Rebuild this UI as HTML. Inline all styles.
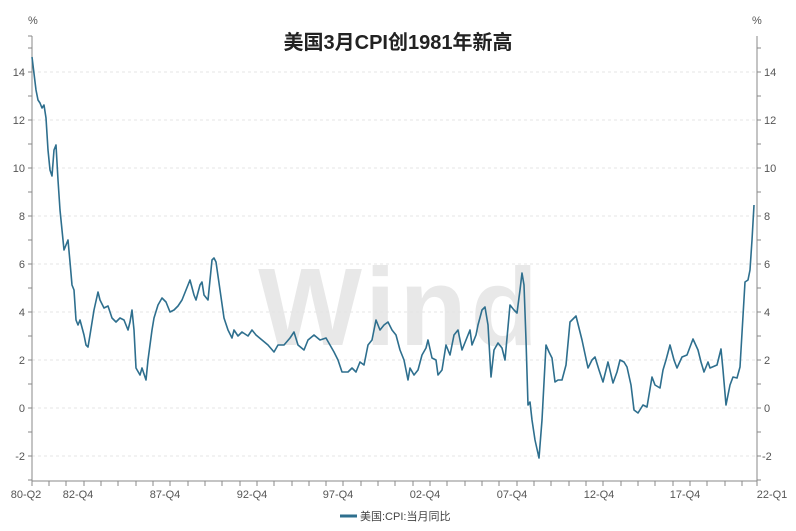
<!DOCTYPE html>
<html><head><meta charset="utf-8"><style>
body{margin:0;background:#fff;}
svg text{font-family:"Liberation Sans","Noto Sans CJK SC",sans-serif;}
</style></head><body>
<svg width="796" height="526" viewBox="0 0 796 526" xmlns="http://www.w3.org/2000/svg">
<rect width="796" height="526" fill="#fff"/>
<text x="398" y="49" text-anchor="middle" font-size="20" font-weight="bold" fill="#222">美国3月CPI创1981年新高</text>
<text x="400" y="345" text-anchor="middle" font-size="110" font-weight="bold" fill="#e8e8e8" letter-spacing="4">Wind</text>
<g stroke="#e4e4e4" stroke-dasharray="3,3" stroke-width="1">
<line x1="32" x2="757" y1="72" y2="72"/><line x1="32" x2="757" y1="120" y2="120"/>
<line x1="32" x2="757" y1="168" y2="168"/><line x1="32" x2="757" y1="216" y2="216"/>
<line x1="32" x2="757" y1="264" y2="264"/><line x1="32" x2="757" y1="312" y2="312"/>
<line x1="32" x2="757" y1="360" y2="360"/><line x1="32" x2="757" y1="408" y2="408"/>
<line x1="32" x2="757" y1="456" y2="456"/>
</g>
<g stroke="#888" stroke-width="1">
<line x1="32" x2="32" y1="36" y2="481"/><line x1="757" x2="757" y1="36" y2="481"/>
<line x1="32" x2="757" y1="481" y2="481"/>
</g>
<g stroke="#888" stroke-width="1">
<path d="M28 36H32M28 48H32M28 72H32M28 96H32M28 120H32M28 144H32M28 168H32M28 192H32M28 216H32M28 240H32M28 264H32M28 288H32M28 312H32M28 336H32M28 360H32M28 384H32M28 408H32M28 432H32M28 456H32M28 480H32"/>
<path d="M757 48H761M757 72H761M757 96H761M757 120H761M757 144H761M757 168H761M757 192H761M757 216H761M757 240H761M757 264H761M757 288H761M757 312H761M757 336H761M757 360H761M757 384H761M757 408H761M757 432H761M757 456H761M757 480H761"/>
<path d="M32 481v5M49 481v5M66 481v5M84 481v5M101 481v5M118 481v5M136 481v5M153 481v5M170 481v5M188 481v5M205 481v5M222 481v5M240 481v5M257 481v5M274 481v5M292 481v5M309 481v5M326 481v5M343 481v5M361 481v5M378 481v5M395 481v5M413 481v5M430 481v5M447 481v5M465 481v5M482 481v5M499 481v5M517 481v5M534 481v5M551 481v5M569 481v5M586 481v5M603 481v5M621 481v5M638 481v5M655 481v5M673 481v5M690 481v5M707 481v5M725 481v5M742 481v5M757 481v5"/>
</g>
<g font-size="11" fill="#555">
<text x="28" y="24">%</text><text x="752" y="24">%</text>
<g text-anchor="end">
<text x="25" y="76">14</text><text x="25" y="124">12</text><text x="25" y="172">10</text><text x="25" y="220">8</text><text x="25" y="268">6</text><text x="25" y="316">4</text><text x="25" y="364">2</text><text x="25" y="412">0</text><text x="25" y="460">-2</text>
</g>
<text x="764" y="76">14</text><text x="764" y="124">12</text><text x="764" y="172">10</text><text x="764" y="220">8</text><text x="764" y="268">6</text><text x="764" y="316">4</text><text x="764" y="364">2</text><text x="764" y="412">0</text><text x="762" y="460">-2</text>
<g text-anchor="middle">
<text x="26" y="498">80-Q2</text><text x="78" y="498">82-Q4</text><text x="165" y="498">87-Q4</text><text x="252" y="498">92-Q4</text><text x="338" y="498">97-Q4</text><text x="425" y="498">02-Q4</text><text x="512" y="498">07-Q4</text><text x="599" y="498">12-Q4</text><text x="685" y="498">17-Q4</text><text x="772" y="498">22-Q1</text>
</g>
</g>
<line x1="340" x2="357" y1="516" y2="516" stroke="#2e6f8e" stroke-width="3"/>
<text x="360" y="520" font-size="11" fill="#444">美国:CPI:当月同比</text>
<polyline fill="none" stroke="#2e6f8e" stroke-width="1.6" stroke-linejoin="round" points="32,57 36,90 38,100 40,103 42,108 44,105 46,118 48,150 50,170 52,176 54,150 56,145 58,180 60,210 62,230 64,250 66,245 68,240 70,262 72,285 74,290 76,320 78,325 80,320 84,335 86,345 88,347 90,335 94,310 98,292 100,300 104,308 108,306 112,318 116,322 120,318 124,320 128,330 130,322 132,310 134,330 136,368 140,375 142,368 146,380 148,360 152,330 154,318 158,305 162,298 166,302 170,312 174,310 178,306 182,300 186,290 190,280 194,295 196,300 200,285 202,282 204,295 208,300 210,280 212,260 214,258 216,262 220,290 224,318 228,330 232,338 234,330 238,336 242,332 248,336 252,330 256,335 262,340 268,345 274,352 278,345 284,345 290,338 294,332 298,345 304,350 308,340 314,335 320,340 326,338 330,345 334,352 338,360 342,372 348,372 352,368 356,372 360,362 364,365 368,345 372,340 376,320 380,330 384,325 388,322 392,330 396,335 400,350 404,360 408,380 410,368 414,375 418,370 422,355 426,348 428,340 432,358 436,360 438,375 442,370 446,345 450,355 454,335 458,330 462,350 466,340 470,330 472,345 476,335 478,325 482,310 485,307 488,325 491,377 494,350 498,343 502,348 505,360 510,305 514,310 517,313 520,290 522,273 524,285 526,340 528,405 530,402 532,420 535,440 539,458 542,420 546,345 549,352 552,358 555,382 558,380 562,380 566,365 570,322 574,318 576,316 580,332 582,340 588,368 592,360 595,357 599,370 603,382 608,362 613,383 617,372 620,360 624,362 627,367 631,385 634,410 638,413 643,405 647,407 652,377 655,385 660,388 663,370 666,360 670,345 674,360 677,368 682,357 687,355 693,339 698,350 701,362 704,372 708,362 710,368 717,365 721,349 723,370 726,405 730,385 733,377 737,378 740,367 745,282 748,280 750,270 752,240 754,205"/>
</svg>
</body></html>
